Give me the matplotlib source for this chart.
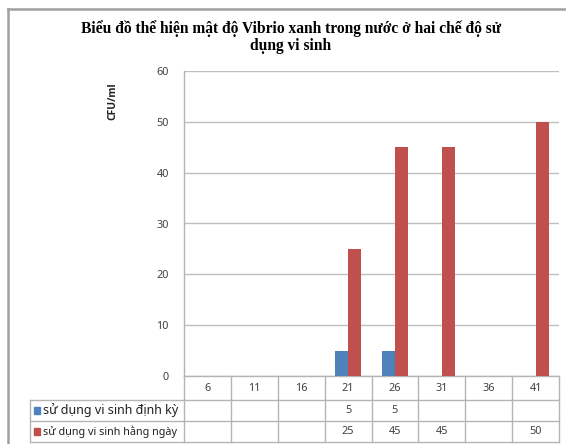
import matplotlib
matplotlib.use("Agg")
import matplotlib.pyplot as plt
import matplotlib.transforms as mtransforms
from matplotlib.lines import Line2D
import numpy as np

categories = ["6", "11", "16", "21", "26", "31", "36", "41"]
series_names = ["sử dụng vi sinh định kỳ", "sử dụng vi sinh hằng ngày"]
dinh_ky = [None, None, None, 5, 5, None, None, None]
hang_ngay = [None, None, None, 25, 45, 45, None, 50]
y_ticks = [0, 10, 20, 30, 40, 50, 60]
title = "Biểu đồ thể hiện mật độ Vibrio xanh trong nước ở hai chế độ sử\ndụng vi sinh"
y_label = "CFU/ml"

colors = ["#4F81BD", "#C0504D"]
grid_c = "#BFBFBF"
line_c = "#B4B4B4"
sans = ["Noto Sans", "DejaVu Sans"]
sans_b = ["Open Sans", "DejaVu Sans"]
serif = ["Liberation Serif", "DejaVu Serif"]

W, H = 566, 444
fig = plt.figure(figsize=(W / 100, H / 100), dpi=100)

def fx(px):
    return px / W

def fy(py):
    return 1 - py / H

ax_l, ax_r, ax_t, ax_b = 184, 559, 71, 376
ax = fig.add_axes([fx(ax_l), fy(ax_b), (ax_r - ax_l) / W, (ax_b - ax_t) / H])

n = len(categories)
x = np.arange(n)
bw = 1 / 3.5
vals1 = [v if v is not None else 0 for v in dinh_ky]
vals2 = [v if v is not None else 0 for v in hang_ngay]
ax.bar(x - bw / 2, vals1, width=bw, color=colors[0], zorder=3)
ax.bar(x + bw / 2, vals2, width=bw, color=colors[1], zorder=3)

ax.set_xlim(-0.5, n - 0.5)
ax.set_ylim(0, 60)
ax.set_yticks(y_ticks)
ax.set_xticks([])
ax.yaxis.grid(True, color=grid_c, linewidth=1.0, zorder=0)
for s in ["top", "right", "bottom"]:
    ax.spines[s].set_visible(False)
ax.spines["left"].set_color(line_c)
ax.spines["left"].set_linewidth(1.0)
ax.tick_params(axis="y", length=0, pad=11, labelsize=7.8, labelcolor="#404040")
for lab in ax.get_yticklabels():
    lab.set_family(sans)

# Data table below axes
ah = ax_b - ax_t
aw = ax_r - ax_l
def ay(py):
    return (ax_b - py) / ah

trans = mtransforms.blended_transform_factory(ax.transData, ax.transAxes)
row_tops = [376, 400, 421, 442]
kw = dict(color=line_c, linewidth=1.0, clip_on=False)
for k in range(n + 1):
    ax.add_line(Line2D([k - 0.5, k - 0.5], [ay(376), ay(442)], transform=trans, **kw))
left_ax = (30 - ax_l) / aw
for py in row_tops[1:]:
    ax.add_line(Line2D([left_ax, 1.0], [ay(py), ay(py)], transform=ax.transAxes, **kw))
ax.add_line(Line2D([left_ax, left_ax], [ay(400), ay(442)], transform=ax.transAxes, **kw))
ax.add_line(Line2D([0, 1.0], [0, 0], transform=ax.transAxes, **kw))

for i, c in enumerate(categories):
    ax.text(i, ay(388.5), c, transform=trans, ha="center", va="center",
            fontsize=7.8, family=sans, color="#404040", clip_on=False)
for r, (series, yc) in enumerate([(dinh_ky, 410.5), (hang_ngay, 431.5)]):
    for i, v in enumerate(series):
        if v is not None:
            ax.text(i, ay(yc), str(v), transform=trans, ha="center", va="center",
                    fontsize=7.8, family=sans, color="#404040", clip_on=False)

key_sizes = [9.0, 7.8]
for r, (name, yc) in enumerate(zip(series_names, [410.5, 431.5])):
    fig.patches.append(plt.Rectangle((fx(34), fy(yc + 3.5)), 6 / W, 7 / H,
                                     transform=fig.transFigure, color=colors[r]))
    fig.text(fx(43), fy(yc), name, ha="left", va="center",
             fontsize=key_sizes[r], family=sans, color="#202020")

fig.text(fx(291), fy(37), title, ha="center", va="center", fontsize=11.2,
         fontweight="bold", family=serif, linespacing=1.15)
fig.text(fx(113), fy(101), y_label, ha="center", va="center", rotation=90,
         fontsize=7.5, fontweight="bold", family=sans_b, color="#202020")

fig.add_artist(Line2D([fx(7.5), fx(7.5)], [fy(9), 0], transform=fig.transFigure,
                      color="#A0A0A0", linewidth=1.8))
fig.add_artist(Line2D([fx(7.5), 1.0], [fy(9), fy(9)], transform=fig.transFigure,
                      color="#A0A0A0", linewidth=1.8))

fig.savefig("out.png", dpi=100, facecolor="white")
